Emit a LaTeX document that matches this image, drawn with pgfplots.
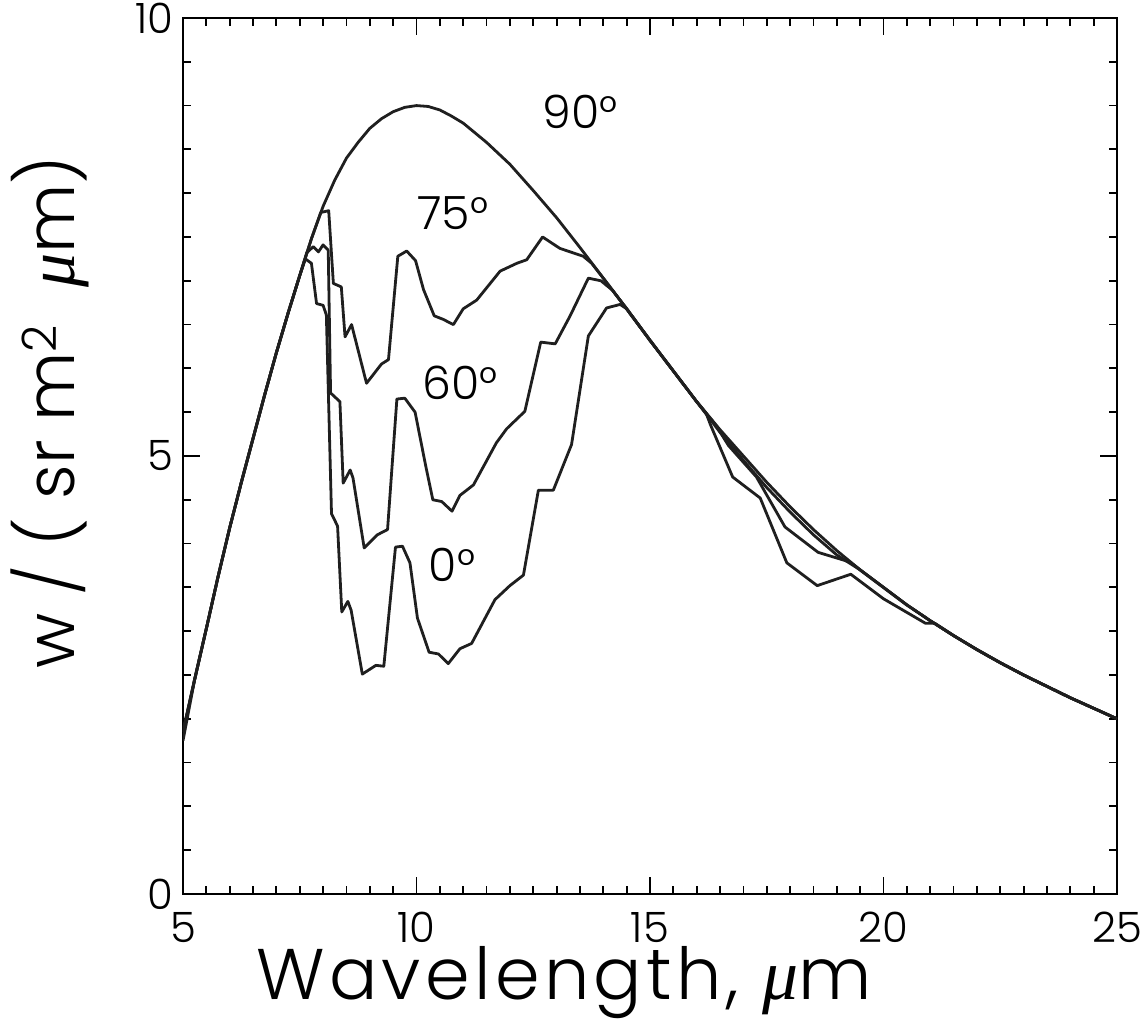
\documentclass[border=0pt]{standalone}
\usepackage{fontspec}
\setmainfont{Poppins}[UprightFont=* Light, BoldFont=* Regular]
\newfontfamily\labfont{Poppins}[UprightFont=* Light, LetterSpace=6.0]
\newfontfamily\mufont{Liberation Serif}
\newcommand{\mum}{{\mufont\itshape μ}m}
\usepackage{pgfplots}
\pgfplotsset{compat=1.18}
\begin{document}
\begin{tikzpicture}
\begin{axis}[
  scale only axis, width=467bp, height=438bp,
  xmin=5, xmax=25, ymin=0, ymax=10,
  xtick={5,10,15,20,25}, ytick={0,5,10},
  minor x tick num=9, minor y tick num=9,
  major tick length=8.5bp, minor tick length=4bp,
  tick align=inside,
  axis line style={line width=1.1bp},
  every tick/.style={black, line width=0.9bp},
  /pgf/number format/assume math mode=true,
  tick label style={font=\fontsize{21}{25}\selectfont, inner sep=1bp},
  xticklabel style={yshift=-8bp},
  yticklabel style={xshift=-3.5bp},
  xlabel={Wavelength, \mum},
  ylabel={w / ( sr m\textsuperscript{2}\ \ \mum)},
  xlabel style={font=\labfont\fontsize{36}{40}\selectfont, at={(axis description cs:0.408,-0.121)}, anchor=base},
  ylabel style={font=\fontsize{34}{40}\selectfont, at={(axis description cs:-0.142,0.55)}, anchor=center},
]
% 90 deg
\addplot[black!88, line width=1.4bp, line join=round, mark=none] coordinates {(5.0,1.75) (5.25,2.45) (5.5,3.03) (5.75,3.62) (6.0,4.18) (6.25,4.70) (6.5,5.20) (6.75,5.70) (7.0,6.18) (7.25,6.63) (7.5,7.06)
 (7.75,7.48) (8.0,7.85) (8.25,8.15) (8.5,8.40) (8.75,8.58) (9.0,8.74) (9.25,8.85) (9.5,8.93) (9.75,8.98) (10.0,9.00) (10.25,8.99) (10.5,8.95) (10.75,8.88) (11.0,8.80) (11.5,8.58) (12.0,8.33) (12.5,8.03) (13.0,7.72) (13.5,7.38) (14.0,7.03) (14.5,6.68) (15.0,6.32) (15.5,5.97) (16.0,5.62) (16.5,5.30) (17.0,5.00) (17.5,4.70) (18.0,4.42) (18.5,4.16) (19.0,3.92) (19.5,3.70) (20.0,3.50) (20.5,3.30) (21.0,3.12) (21.5,2.95) (22.0,2.79) (22.5,2.64) (23.0,2.50) (23.5,2.37) (24.0,2.24) (24.5,2.12) (25.0,2.00)};
% 75 deg
\addplot[black!88, line width=1.4bp, line join=round, mark=none] coordinates {(5.0,1.85) (5.25,2.45) (5.5,3.03) (5.75,3.62) (6.0,4.18) (6.25,4.70) (6.5,5.20) (6.75,5.70) (7.0,6.18) (7.25,6.63) (7.5,7.06)
 (7.75,7.48) (7.95,7.78) (8.12,7.80) (8.22,6.97) (8.39,6.93) (8.47,6.36) (8.61,6.50) (8.93,5.83) (9.25,6.05) (9.40,6.10) (9.60,7.28) (9.79,7.34) (9.98,7.23) (10.15,6.90) (10.38,6.60) (10.57,6.56) (10.79,6.50) (11.0,6.68) (11.29,6.78) (11.79,7.11) (12.15,7.20) (12.36,7.24) (12.70,7.50) (13.07,7.37) (13.57,7.28) (13.75,7.20) (14.0,7.03) (14.5,6.68) (15.0,6.32) (15.5,5.97) (16.0,5.62) (16.5,5.27) (17.0,4.95) (17.5,4.64) (18.0,4.36) (18.5,4.10) (19.0,3.87) (19.5,3.70) (20.0,3.50) (20.5,3.30) (21.0,3.12) (21.5,2.95) (22.0,2.79) (22.5,2.64) (23.0,2.50) (23.5,2.37) (24.0,2.24) (24.5,2.12) (25.0,2.00)};
% 60 deg
\addplot[black!88, line width=1.4bp, line join=round, mark=none] coordinates {(5.0,1.85) (5.25,2.45) (5.5,3.03) (5.75,3.62) (6.0,4.18) (6.25,4.70) (6.5,5.20) (6.75,5.70) (7.0,6.18) (7.25,6.63) (7.5,7.06)
 (7.65,7.32) (7.79,7.39) (7.90,7.33) (8.00,7.41) (8.11,7.35) (8.16,5.72) (8.36,5.62) (8.43,4.69) (8.58,4.84) (8.64,4.75) (8.88,3.95) (9.16,4.10) (9.38,4.16) (9.58,5.65) (9.75,5.66) (9.97,5.50) (10.20,4.88) (10.35,4.50) (10.54,4.48) (10.76,4.37) (10.93,4.55) (11.22,4.67) (11.71,5.15) (11.93,5.31) (12.32,5.51) (12.66,6.30) (12.97,6.28) (13.29,6.60) (13.68,7.03) (13.95,7.00) (14.2,6.89) (14.5,6.68) (15.0,6.32) (15.5,5.97) (16.0,5.62) (16.4,5.36) (16.68,5.12) (17.28,4.76) (17.89,4.19) (18.6,3.90) (19.28,3.79) (19.5,3.70) (20.0,3.50) (20.5,3.30) (21.0,3.12) (21.5,2.95) (22.0,2.79) (22.5,2.64) (23.0,2.50) (23.5,2.37) (24.0,2.24) (24.5,2.12) (25.0,2.00)};
% 0 deg
\addplot[black!88, line width=1.4bp, line join=round, mark=none] coordinates {(5.0,1.85) (5.25,2.45) (5.5,3.03) (5.75,3.62) (6.0,4.18) (6.25,4.70) (6.5,5.20) (6.75,5.70) (7.0,6.18) (7.25,6.63) (7.5,7.06)
 (7.62,7.25) (7.75,7.20) (7.86,6.74) (8.00,6.72) (8.07,6.61) (8.18,4.34) (8.31,4.20) (8.40,3.22) (8.53,3.34) (8.60,3.24) (8.84,2.51) (9.13,2.61) (9.30,2.60) (9.55,3.96) (9.70,3.97) (9.86,3.78) (10.02,3.15) (10.27,2.76) (10.47,2.74) (10.68,2.63) (10.93,2.80) (11.18,2.86) (11.68,3.36) (12.00,3.52) (12.29,3.64) (12.61,4.61) (12.93,4.61) (13.32,5.13) (13.68,6.37) (14.07,6.69) (14.36,6.73) (14.5,6.68) (15.0,6.32) (15.5,5.97) (16.0,5.62) (16.2,5.49) (16.3,5.35) (16.77,4.76) (17.36,4.52) (17.93,3.78) (18.58,3.52) (19.30,3.65) (20.0,3.37) (20.9,3.09) (21.1,3.09) (21.5,2.95) (22.0,2.79) (22.5,2.64) (23.0,2.50) (23.5,2.37) (24.0,2.24) (24.5,2.12) (25.0,2.00)};
\begin{scope}[every node/.style={font=\fontsize{23}{28}\selectfont, inner sep=0pt}]
\node at (axis cs:13.5,8.93) {90°};
\node at (axis cs:10.78,7.77) {75°};
\node at (axis cs:10.93,5.83) {60°};
\node at (axis cs:10.76,3.76) {0°};
\end{scope}
\end{axis}
\path (current axis.south west) ++(-91.5bp,-65bp) rectangle ([xshift=13.5bp,yshift=9bp]current axis.north east);
\end{tikzpicture}
\end{document}
